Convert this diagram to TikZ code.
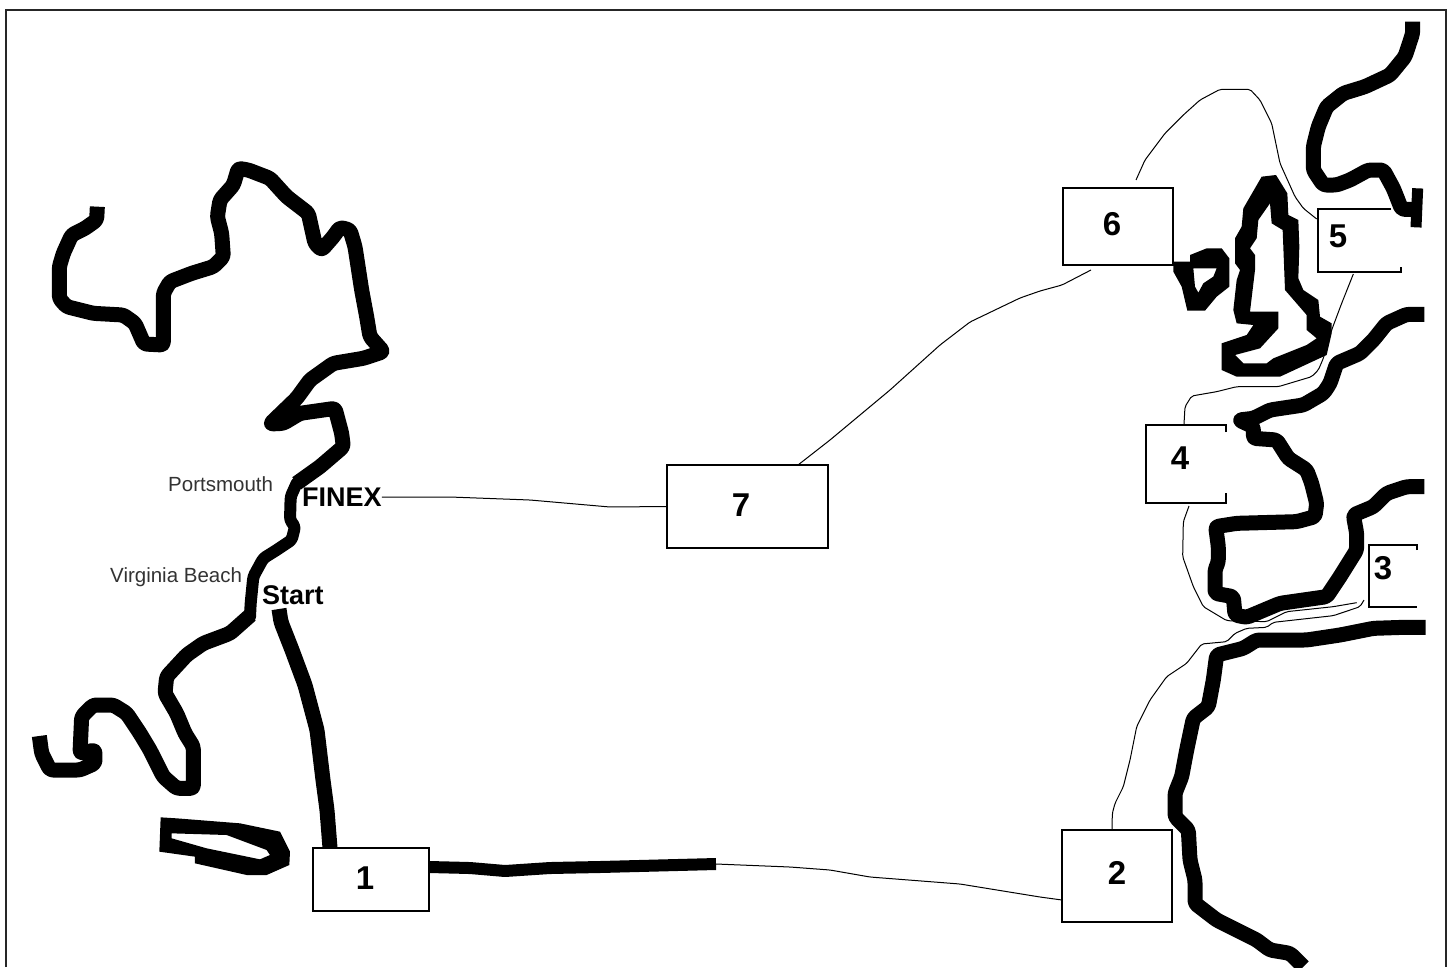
\documentclass[tikz,border=0pt]{standalone}
\usepackage{fontspec}
\setmainfont{Liberation Sans}
\tikzset{
  coast/.style={line width=15pt,line join=round,rounded corners=3pt,black},
  coastthin/.style={coast,line width=12pt},
  route/.style={line width=1pt,black,line join=round,rounded corners=2pt},
  frameline/.style={line width=2pt,black!85},
  mapbox/.style={draw=black,line width=2.4pt,fill=white,anchor=north west,inner sep=0pt,outer sep=0pt},
  openbox/.style={inner sep=0pt,outer sep=0pt,anchor=north west},
  openline/.style={line width=2.4pt,black,line cap=butt,line join=miter},
  num/.style={font=\bfseries\fontsize{33}{33}\selectfont,inner sep=0pt},
  place/.style={font=\fontsize{20.5}{21}\selectfont,text=black!80,inner sep=0pt},
  mark label/.style={font=\bfseries\fontsize{27}{27}\selectfont,inner sep=0pt},
  zA/.style={shift={(1040,0)},x=.33333pt,y=-.33333pt},
  zB/.style={shift={(1040,380)},x=.33333pt,y=-.33333pt},
  zC/.style={shift={(0,150)},x=.33333pt,y=-.33333pt},
  zD/.style={shift={(0,460)},x=.33333pt,y=-.33333pt},
  zE/.style={shift={(1040,620)},x=.33333pt,y=-.33333pt}
}
\begin{document}
\begin{tikzpicture}[x=1pt,y=-1pt]
\useasboundingbox (0,0) rectangle (1451,967);
\fill[white] (0,0) rectangle (1451,967);
\draw[frameline] (6,967) -- (6,10) -- (1446,10) -- (1446,967);

% American coast
\begin{scope}[zC]
\draw[coast] (292,170) -- (290,210) -- (255,235) -- (215,255) -- (190,310) -- (178,350) -- (178,445) -- (200,470) -- (280,490) -- (370,495) -- (405,520) -- (432,582) -- (490,585) -- (490,430) -- (510,395) -- (575,370) -- (640,350) -- (670,320) -- (665,250) -- (652,200) -- (660,150) -- (700,105) -- (715,55) -- (745,60) -- (810,85) -- (860,140) -- (925,190) -- (945,280) -- (965,300) -- (1000,260) -- (1020,232) -- (1050,240) -- (1065,290) -- (1085,420) -- (1100,500) -- (1110,560) -- (1150,605) -- (1090,625) -- (1000,640) -- (930,690) -- (890,745) -- (810,822) -- (850,820) -- (900,790) -- (1005,775) -- (1025,850) -- (1030,890) -- (960,950) -- (890,1000);
\draw[coastthin,line cap=round] (890,1000) -- (872,1040) -- (870,1110) -- (885,1130) -- (875,1170) -- (830,1200) -- (790,1225) -- (760,1280) -- (752,1360) -- (750,1400);
\draw[coast] (752,1395) -- (690,1450) -- (610,1480) -- (560,1515) -- (500,1580) -- (495,1630) -- (530,1690) -- (555,1750) -- (580,1790) -- (580,1915) -- (530,1915) -- (490,1880) -- (450,1800) -- (420,1750) -- (380,1690) -- (340,1665) -- (280,1665) -- (245,1700) -- (240,1810) -- (285,1800) -- (285,1840) -- (240,1860) -- (150,1860) -- (125,1810) -- (118,1758);
\end{scope}
% Island
\begin{scope}[zD]
\fill[black,even odd rule] (482,1072) -- (530,1075) -- (720,1090) -- (840,1115) -- (870,1175) -- (868,1215) -- (800,1245) -- (740,1245) -- (585,1210) -- (585,1190) -- (478,1175) -- cycle
 (515,1120) -- (680,1125) -- (800,1170) -- (810,1185) -- (780,1198) -- (620,1165) -- (515,1135) -- cycle;
\end{scope}
% European coasts
\begin{scope}[zA]
\draw[coast] (1118,65) -- (1118,100) -- (1095,170) -- (1050,225) -- (975,260) -- (910,280) -- (860,320) -- (835,380) -- (820,440) -- (820,510) -- (850,555) -- (890,555) -- (930,540) -- (985,510) -- (1030,510) -- (1060,565) -- (1085,628) -- (1130,628);
\draw[coast,line width=11pt] (1133,565) -- (1128,682);
\fill[black,even odd rule] (400,785) -- (450,785) -- (450,765) -- (500,745) -- (545,745) -- (568,775) -- (568,860) -- (530,890) -- (495,932) -- (442,932) -- (425,860) -- (400,815) -- cycle
 (460,805) -- (530,805) -- (520,830) -- (490,850) -- (475,878) -- (465,860) -- cycle;
\fill[black,even odd rule] (665,530) -- (708,525) -- (742,580) -- (745,645) -- (775,660) -- (778,740) -- (775,835) -- (790,870) -- (835,900) -- (840,950) -- (875,970) -- (875,1000) -- (860,1065) -- (720,1130) -- (590,1130) -- (545,1110) -- (545,1030) -- (620,1005) -- (640,975) -- (590,970) -- (580,930) -- (590,840) -- (600,810) -- (585,790) -- (585,715) -- (605,680) -- (610,625) -- cycle
 (690,610) -- (655,660) -- (650,715) -- (630,745) -- (645,765) -- (645,810) -- (630,935) -- (715,935) -- (715,985) -- (660,1045) -- (585,1065) -- (610,1090) -- (680,1090) -- (700,1075) -- (800,1035) -- (830,1015) -- (800,990) -- (800,945) -- (735,870) -- (728,690) -- (695,670) -- cycle;
\end{scope}
\begin{scope}[zB]
\draw[coast] (1153,-197) -- (1100,-197) -- (1040,-170) -- (1000,-120) -- (960,-80) -- (890,-50) -- (870,10) -- (850,40) -- (790,75) -- (690,90) -- (640,115) -- (597,120) -- (640,140) -- (640,175) -- (710,180) -- (745,235) -- (800,270) -- (815,310) -- (830,370) -- (825,410) -- (770,425) -- (590,430) -- (527,440) -- (535,500) -- (535,545) -- (525,570) -- (525,640) -- (580,650) -- (585,705) -- (620,712) -- (720,670) -- (860,650) -- (900,590) -- (950,510) -- (950,460) -- (940,405) -- (1000,380) -- (1040,340) -- (1100,320) -- (1153,320);
\end{scope}
\begin{scope}[zE]
\draw[coast] (1157,22) -- (1090,22) -- (1000,25) -- (900,45) -- (800,60) -- (650,60) -- (610,85) -- (530,105) -- (520,180) -- (505,260) -- (460,295) -- (440,390) -- (425,470) -- (405,520) -- (405,590) -- (445,630) -- (450,720) -- (465,780) -- (465,850) -- (530,900) -- (590,930) -- (650,960) -- (690,990) -- (750,1000) -- (790,1040);
\end{scope}

% Thick leg
\coordinate (trackend) at (716,864);
\coordinate (trackstart) at (429,867);
\coordinate (startend) at (279,609);
\coordinate (boxonetop) at (330,848);
\draw[coast] (startend) -- (281,622) -- (292,650) -- (305,685) -- (317,730) -- (323,780) -- (327,810) -- (boxonetop);
\draw[coast,line width=12pt] (trackstart) -- (470,868) -- (505,871) -- (550,868) -- (600,867) -- (trackend);

% Boxes
\node[mapbox,minimum width=116pt,minimum height=63pt] (n1) at (313,848) {};
\node[mapbox,minimum width=110pt,minimum height=92pt] (n2) at (1062,830) {};
\node[openbox,minimum width=48pt,minimum height=62pt] (n3) at (1369,545) {};
\node[openbox,minimum width=80pt,minimum height=78pt] (n4) at (1146,425) {};
\node[openbox,minimum width=83pt,minimum height=63pt] (n5) at (1318,209) {};
\node[mapbox,minimum width=110pt,minimum height=77pt] (n6) at (1063,188) {};
\node[mapbox,minimum width=161pt,minimum height=83pt] (n7) at (667,465) {};
\draw[openline] ([yshift=-5pt]n3.north east) -- (n3.north east) -- (n3.north west) -- (n3.south west) -- (n3.south east);
\draw[openline] ([yshift=-7pt]n4.north east) -- (n4.north east) -- (n4.north west) -- (n4.south west) -- (n4.south east) -- ([yshift=10pt]n4.south east);
\draw[openline] ([xshift=-10pt]n5.north east) -- (n5.north west) -- (n5.south west) -- (n5.south east) -- ([yshift=5pt]n5.south east);

% Labels
\node[num] (l1) at (365,878) {1};
\node[num] (l2) at (1117,873) {2};
\node[num] (l3) at (1383,568) {3};
\node[num] (l4) at (1180,458) {4};
\node[num] (l5) at (1338,236) {5};
\node[num] (l6) at (1112,224) {6};
\node[num] (l7) at (741,505) {7};
\node[mark label,anchor=west] (finex) at (302,497) {FINEX};
\node[mark label,anchor=west] (start) at (262,595) {Start};
\node[place,anchor=west] (portsmouth) at (168,484) {Portsmouth};
\node[place,anchor=west] (virginia) at (110,577) {Virginia Beach};

% Thin routes
\coordinate (ntwoleft) at (1062,900);
\coordinate (ntwotop) at (1112,830);
\coordinate (nsevtop) at (798,465);
\draw[route] (trackend) -- (790,867) -- (830,870) -- (870,877) -- (960,884) -- (1040,897) -- (ntwoleft);
\begin{scope}[zE]
\draw[route] (ntwotop) -- (217,580) -- (225,550) -- (250,500) -- (270,420) -- (290,320) -- (330,240) -- (380,170) -- (440,130) -- (485,72) -- (560,65) -- (585,40) -- (620,25) -- (680,22) -- (700,7) -- (880,-13) -- (960,-40) -- (972,-60);
\end{scope}
\begin{scope}[zB]
\coordinate (b4low) at (447,378);
\draw[route] (b4low) -- (430,425) -- (428,530) -- (460,620) -- (490,680) -- (560,722) -- (680,725) -- (740,695) -- (880,680) -- (950,668);
\coordinate (b5low) at (940,-318);
\draw[route] (b5low) -- (905,-230) -- (875,-150) -- (850,-65) -- (835,-30) -- (815,-10) -- (715,20) -- (590,20) -- (530,35) -- (455,48) -- (435,80) -- (432,132);
\end{scope}
\begin{scope}[zA]
\coordinate (b6top) at (288,540);
\coordinate (b5top) at (830,657);
\draw[route] (b6top) -- (315,480) -- (375,400) -- (430,345) -- (480,300) -- (540,268) -- (630,268) -- (660,300) -- (695,370) -- (720,490) -- (765,590) -- (790,625) -- (b5top);
\end{scope}
\coordinate (b6low) at (1091,270);
\draw[route] (b6low) -- (1062,285) -- (1040,291) -- (1020,298) -- (970,322) -- (940,345) -- (890,390) -- (830,440) -- (nsevtop);
\draw[route] (finex.east) -- (450,497) -- (530,500) -- (610,507) -- (n7.west);
\end{tikzpicture}
\end{document}
